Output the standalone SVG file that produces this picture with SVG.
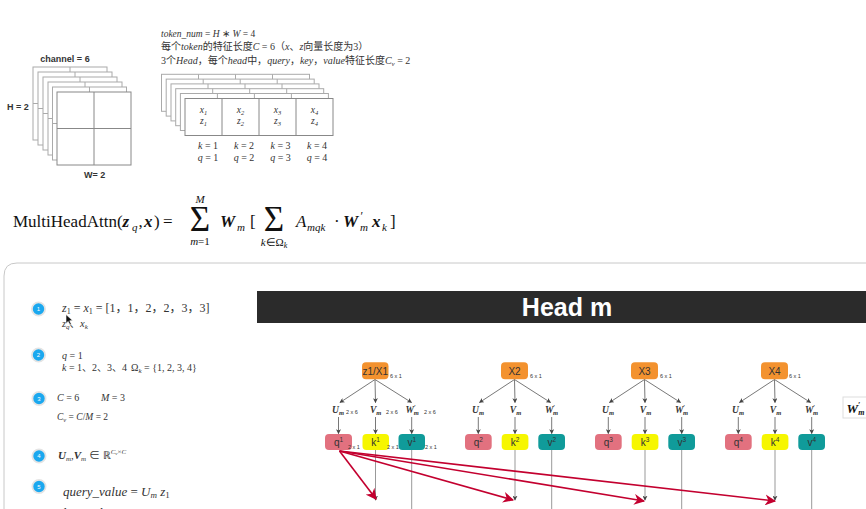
<svg xmlns="http://www.w3.org/2000/svg" width="866" height="509" viewBox="0 0 866 509">
<style>
.m{font-family:"Liberation Serif","Noto Sans CJK SC",serif;fill:#333}
.f{font-family:"Liberation Serif",serif;fill:#111}
.i{font-style:italic}
.b{font-style:italic;font-weight:bold}
.s{font-family:"Liberation Sans",Arial,sans-serif}
.fr{fill:#fff;stroke:#aaa;stroke-width:1}
.frf{fill:#fff;stroke:#888;stroke-width:1}
.gl{stroke:#aaa;stroke-width:1}
.gl2{stroke:#888;stroke-width:1}
.ar{stroke:#555;stroke-width:0.8;fill:none;marker-end:url(#ah)}
.kl{stroke:#999;stroke-width:1;fill:none}
.red{stroke:#c3002f;stroke-width:1.6;fill:none;marker-end:url(#rh)}
.xb{fill:#f3922f}
.qb{fill:#e2717f}
.kb{fill:#f6f600}
.vb{fill:#109b9a}
.bt{font-family:"Liberation Sans",Arial,sans-serif;font-size:10px;fill:#333}
.sm{font-family:"Liberation Sans",Arial,sans-serif;font-size:5.5px;fill:#333}
.lb{font-family:"Liberation Serif",serif;font-size:9.5px;font-style:italic;font-weight:bold;fill:#333}
.badge{fill:#1ba8ef;stroke:#e4e4e4;stroke-width:1.8}
.bn{font-family:"Liberation Sans",Arial,sans-serif;font-size:6px;fill:#fff;text-anchor:middle}
</style>
<defs>
<marker id="ah" viewBox="0 0 8 8" refX="7" refY="4" markerWidth="5" markerHeight="5" orient="auto" markerUnits="userSpaceOnUse">
<path d="M0,0 L8,4 L0,8 L2,4 z" fill="#444"/>
</marker>
<marker id="rh" viewBox="0 0 10 10" refX="9" refY="5" markerWidth="11" markerHeight="11" orient="auto" markerUnits="userSpaceOnUse">
<path d="M0,0 L10,5 L0,10 L3,5 z" fill="#c3002f"/>
</marker>
</defs>
<rect width="866" height="509" fill="#fff"/>

<!-- channel stack -->
<g id="channel-stack">
<text x="65" y="62" class="s" font-size="9" font-weight="bold" fill="#333" text-anchor="middle">channel = 6</text>
<g><rect class="fr" x="33" y="67" width="74" height="73"/><line class="gl" x1="70" y1="67" x2="70" y2="140"/><line class="gl" x1="33" y1="103.5" x2="107" y2="103.5"/></g>
<g><rect class="fr" x="38" y="72" width="74" height="73"/><line class="gl" x1="75" y1="72" x2="75" y2="145"/><line class="gl" x1="38" y1="108.5" x2="112" y2="108.5"/></g>
<g><rect class="fr" x="43" y="77" width="74" height="73"/><line class="gl" x1="80" y1="77" x2="80" y2="150"/><line class="gl" x1="43" y1="113.5" x2="117" y2="113.5"/></g>
<g><rect class="fr" x="48" y="82" width="74" height="73"/><line class="gl" x1="85" y1="82" x2="85" y2="155"/><line class="gl" x1="48" y1="118.5" x2="122" y2="118.5"/></g>
<g><rect class="fr" x="52.5" y="87" width="74" height="73"/><line class="gl" x1="89.5" y1="87" x2="89.5" y2="160"/><line class="gl" x1="52.5" y1="123.5" x2="126.5" y2="123.5"/></g>
<g><rect class="frf" x="57" y="92" width="74" height="73"/><line class="gl2" x1="94" y1="92" x2="94" y2="165"/><line class="gl2" x1="57" y1="128.5" x2="131" y2="128.5"/></g>
<text x="7" y="110" class="s" font-size="9" font-weight="bold" fill="#333">H = 2</text>
<text x="84" y="178" class="s" font-size="9" font-weight="bold" fill="#333">W= 2</text>
</g>

<!-- token description -->
<g id="token-text" class="m">
<text x="161" y="37" font-size="9.5"><tspan class="i">token_num</tspan> = <tspan class="i">H</tspan> ∗ <tspan class="i">W</tspan> = 4</text>
<text x="161" y="50" font-size="10">每个<tspan class="i">token</tspan>的特征长度<tspan class="i">C</tspan> = 6（<tspan class="i">x</tspan>、<tspan class="i">z</tspan>向量长度为3）</text>
<text x="161" y="64" font-size="10">3个<tspan class="i">Head</tspan>，每个<tspan class="i">head</tspan>中，<tspan class="i">query</tspan>，<tspan class="i">key</tspan>，<tspan class="i">value</tspan>特征长度<tspan class="i">C</tspan><tspan class="i" font-size="7" dy="2">v</tspan><tspan dy="-2"> = 2</tspan></text>
</g>

<!-- token stack -->
<g id="token-stack">
<g><rect class="fr" x="161.5" y="74.3" width="148" height="37"/><path class="gl" d="M198.5,74.3v37M235.5,74.3v37M272.5,74.3v37"/></g>
<g><rect class="fr" x="166.2" y="79.1" width="148" height="37"/><path class="gl" d="M203.2,79.1v37M240.2,79.1v37M277.2,79.1v37"/></g>
<g><rect class="fr" x="171" y="83.9" width="148" height="37"/><path class="gl" d="M208,83.9v37M245,83.9v37M282,83.9v37"/></g>
<g><rect class="fr" x="175.7" y="88.7" width="148" height="37"/><path class="gl" d="M212.7,88.7v37M249.7,88.7v37M286.7,88.7v37"/></g>
<g><rect class="fr" x="180.4" y="93.5" width="148" height="37"/><path class="gl" d="M217.4,93.5v37M254.4,93.5v37M291.4,93.5v37"/></g>
<g><rect class="frf" x="185" y="98.5" width="148" height="37"/><path class="gl2" d="M222,98.5v37M259,98.5v37M296,98.5v37"/></g>
<g class="m i" font-size="9.5" text-anchor="middle">
<text x="203.5" y="113">x<tspan font-size="6.5" dy="1.5">1</tspan></text>
<text x="203.5" y="124">z<tspan font-size="6.5" dy="1.5">1</tspan></text>
<text x="240.5" y="113">x<tspan font-size="6.5" dy="1.5">2</tspan></text>
<text x="240.5" y="124">z<tspan font-size="6.5" dy="1.5">2</tspan></text>
<text x="277.5" y="113">x<tspan font-size="6.5" dy="1.5">3</tspan></text>
<text x="277.5" y="124">z<tspan font-size="6.5" dy="1.5">3</tspan></text>
<text x="314.5" y="113">x<tspan font-size="6.5" dy="1.5">4</tspan></text>
<text x="314.5" y="124">z<tspan font-size="6.5" dy="1.5">4</tspan></text>
</g>
<g class="m" font-size="10" text-anchor="middle">
<text x="208" y="149"><tspan class="i">k</tspan> = 1</text>
<text x="244" y="149"><tspan class="i">k</tspan> = 2</text>
<text x="280.5" y="149"><tspan class="i">k</tspan> = 3</text>
<text x="317" y="149"><tspan class="i">k</tspan> = 4</text>
<text x="208" y="161"><tspan class="i">q</tspan> = 1</text>
<text x="244" y="161"><tspan class="i">q</tspan> = 2</text>
<text x="280.5" y="161"><tspan class="i">q</tspan> = 3</text>
<text x="317" y="161"><tspan class="i">q</tspan> = 4</text>
</g>
</g>

<!-- formula -->
<g id="formula" class="f">
<text x="13" y="227" font-size="17">MultiHeadAttn(</text>
<text x="122.5" y="227" font-size="17" class="b">z</text>
<text x="132" y="230.5" font-size="11" class="i">q</text>
<text x="138.5" y="227" font-size="17">,</text>
<text x="144" y="227" font-size="17" class="b">x</text>
<text x="154" y="227" font-size="17">)</text>
<text x="163" y="227" font-size="17">=</text>
<text x="200" y="231" font-size="35" text-anchor="middle">Σ</text>
<text x="200" y="203" font-size="11" class="i" text-anchor="middle">M</text>
<text x="200" y="245" font-size="11" text-anchor="middle"><tspan class="i">m</tspan>=1</text>
<text x="220" y="227" font-size="17" class="b">W</text>
<text x="237" y="230.5" font-size="11" class="i">m</text>
<text x="250" y="227" font-size="17">[</text>
<text x="274" y="231" font-size="35" text-anchor="middle">Σ</text>
<text x="274" y="245.5" font-size="11" text-anchor="middle"><tspan class="i">k</tspan>∈Ω<tspan class="i" font-size="8" dy="2">k</tspan></text>
<text x="296" y="227" font-size="17" class="i">A</text>
<text x="307" y="230.5" font-size="11" class="i">mqk</text>
<text x="334" y="227" font-size="17">·</text>
<text x="343" y="227" font-size="17" class="b">W</text>
<text x="360.5" y="220" font-size="12">′</text>
<text x="360" y="230.5" font-size="11" class="i">m</text>
<text x="372" y="227" font-size="17" class="b">x</text>
<text x="382" y="230.5" font-size="11" class="i">k</text>
<text x="390" y="227" font-size="17">]</text>
</g>

<!-- frame -->
<path d="M4,509 L4,276 Q4,263 17,263 L866,263" fill="none" stroke="#c8c8c8" stroke-width="1"/>

<!-- left list -->
<g id="step1">
<circle class="badge" cx="38.5" cy="309" r="6.6"/><text class="bn" x="38.5" y="311">1</text>
<text class="m" x="62" y="312" font-size="12"><tspan class="i">z</tspan><tspan font-size="8" dy="2">1</tspan><tspan dy="-2"> = </tspan><tspan class="i">x</tspan><tspan font-size="8" dy="2">1</tspan><tspan dy="-2"> = [1，1，2，2，3，3]</tspan></text>
<text class="m" x="62" y="327" font-size="10.5"><tspan class="i">z</tspan><tspan class="i" font-size="7" dy="2">q</tspan><tspan dy="-2">、</tspan><tspan class="i">x</tspan><tspan class="i" font-size="7" dy="2">k</tspan></text>
<path d="M66,314.5 L66,323.5 L68.2,321.4 L70,325 L71.4,324.3 L69.7,320.8 L72.6,320.6 Z" fill="#111" stroke="#fff" stroke-width="0.6"/>
</g>
<g id="step2">
<circle class="badge" cx="38.5" cy="355" r="6.6"/><text class="bn" x="38.5" y="357">2</text>
<text class="m" x="62" y="359" font-size="10"><tspan class="i">q</tspan> = 1</text>
<text class="m" x="62" y="371" font-size="10"><tspan class="i">k</tspan> = 1、2、3、4</text>
<text class="m" x="131" y="371" font-size="10">Ω<tspan class="i" font-size="7" dy="2">k</tspan><tspan dy="-2"> = {1, 2, 3, 4}</tspan></text>
</g>
<g id="step3">
<circle class="badge" cx="39" cy="398.5" r="6.6"/><text class="bn" x="39" y="400.5">3</text>
<text class="m" x="57" y="401" font-size="10"><tspan class="i">C</tspan> = 6</text>
<text class="m" x="101" y="401" font-size="10"><tspan class="i">M</tspan> = 3</text>
<text class="m" x="57" y="420" font-size="9.5"><tspan class="i">C</tspan><tspan class="i" font-size="6.5" dy="2">v</tspan><tspan dy="-2"> = </tspan><tspan class="i">C</tspan>/<tspan class="i">M</tspan> = 2</text>
</g>
<g id="step4">
<circle class="badge" cx="39" cy="456" r="6.6"/><text class="bn" x="39" y="458">4</text>
<text class="m" x="58" y="459" font-size="11"><tspan class="b">U</tspan><tspan class="i" font-size="7" dy="2">m</tspan><tspan dy="-2">,</tspan><tspan class="b">V</tspan><tspan class="i" font-size="7" dy="2">m</tspan><tspan dy="-2"> ∈ ℝ</tspan><tspan class="i" font-size="7" dy="-5">C</tspan><tspan class="i" font-size="5" dy="1">v</tspan><tspan font-size="7" dy="-1">×</tspan><tspan class="i" font-size="7">C</tspan></text>
</g>
<g id="step5">
<circle class="badge" cx="39" cy="486.5" r="6.6"/><text class="bn" x="39" y="488.5">5</text>
<text class="m i" x="63" y="496" font-size="13">query_value <tspan font-style="normal">=</tspan> U<tspan font-size="9" dy="2">m</tspan><tspan dy="-2"> z</tspan><tspan font-size="9" font-style="normal" dy="2">1</tspan></text>
<text class="m i" x="63" y="517" font-size="13">key_value <tspan font-style="normal">=</tspan> V<tspan font-size="9" dy="2">m</tspan><tspan dy="-2"> x</tspan><tspan font-size="9" dy="2">k</tspan></text>
</g>

<!-- head bar -->
<g id="head-bar">
<rect x="257" y="291" width="609" height="32" fill="#2b2b2b"/>
<text x="567" y="316" class="s" font-size="25" font-weight="bold" fill="#fff" text-anchor="middle">Head m</text>
</g>

<!-- connectors -->
<g id="connectors">
<path class="ar" d="M375,379.5 L340,402.5"/><path class="ar" d="M375,379.5 L375.5,402.5"/><path class="ar" d="M375,379.5 L411.5,402.5"/>
<path class="ar" d="M338.5,417 L338.5,433.5"/><path class="ar" d="M375.5,417 L375.5,433.5"/><path class="ar" d="M411.7,417 L411.7,433.5"/>
<path class="ar" d="M514.5,379.5 L479.5,402.5"/><path class="ar" d="M514.5,379.5 L515,402.5"/><path class="ar" d="M514.5,379.5 L550.5,402.5"/>
<path class="ar" d="M478.3,417 L478.3,433.5"/><path class="ar" d="M515,417 L515,433.5"/><path class="ar" d="M551.7,417 L551.7,433.5"/>
<path class="ar" d="M644.5,379.5 L609.5,402.5"/><path class="ar" d="M644.5,379.5 L645,402.5"/><path class="ar" d="M644.5,379.5 L680.5,402.5"/>
<path class="ar" d="M608.3,417 L608.3,433.5"/><path class="ar" d="M645,417 L645,433.5"/><path class="ar" d="M681.7,417 L681.7,433.5"/>
<path class="ar" d="M774.5,379.5 L739.5,402.5"/><path class="ar" d="M774.5,379.5 L775,402.5"/><path class="ar" d="M774.5,379.5 L810.5,402.5"/>
<path class="ar" d="M738.3,417 L738.3,433.5"/><path class="ar" d="M775,417 L775,433.5"/><path class="ar" d="M811.7,417 L811.7,433.5"/>
<path class="kl" d="M375.5,450 L375.5,500" marker-end="url(#ah)"/>
<path class="kl" d="M515,450 L515,500" marker-end="url(#ah)"/>
<path class="kl" d="M645,450 L645,500" marker-end="url(#ah)"/>
<path class="kl" d="M775,450 L775,500" marker-end="url(#ah)"/>
<path class="kl" stroke="#777" d="M411.7,450 L411.7,509"/>
<path class="kl" stroke="#777" d="M551.7,450 L551.7,509"/>
<path class="kl" stroke="#777" d="M681.7,450 L681.7,509"/>
<path class="kl" stroke="#777" d="M811.7,450 L811.7,509"/>
<path class="red" d="M339.5,451 L376,499"/>
<path class="red" d="M339.5,451 L513,500"/>
<path class="red" d="M339.5,451 L644,501"/>
<path class="red" d="M339.5,451 L775,501"/>
</g>

<!-- group 1 -->
<g id="z1x1"><rect class="xb" x="362" y="362.3" width="26.5" height="17" rx="4"/><text class="bt" x="375.2" y="374.5" text-anchor="middle">z1/X1</text><text class="sm" x="390" y="377.5">6 x 1</text></g>
<g id="lbl1" class="lb"><text x="332" y="413">U<tspan font-size="6.5" dy="1.5">m</tspan></text><text class="sm" x="346" y="414" font-style="normal" font-weight="normal">2 x 6</text>
<text x="370" y="413">V<tspan font-size="6.5" dy="1.5">m</tspan></text><text class="sm" x="386" y="414" font-style="normal" font-weight="normal">2 x 6</text>
<text x="405.5" y="413">W<tspan font-size="6" dy="-4">′</tspan><tspan font-size="6.5" dx="-2" dy="5.5">m</tspan></text><text class="sm" x="424" y="414" font-style="normal" font-weight="normal">2 x 6</text></g>
<g id="q1"><rect class="qb" x="325" y="434" width="27" height="16" rx="4"/><text class="bt" x="338.5" y="446" text-anchor="middle">q<tspan font-size="6.5" dy="-4">1</tspan></text><text class="sm" x="348" y="448.5">2 x 1</text></g>
<g id="k1"><rect class="kb" x="362.5" y="434" width="26.5" height="16" rx="4"/><text class="bt" x="375.5" y="446" text-anchor="middle">k<tspan font-size="6.5" dy="-4">1</tspan></text><text class="sm" x="387" y="448.5">2 x 1</text></g>
<g id="v1"><rect class="vb" x="398.5" y="434" width="26.5" height="16" rx="4"/><text class="bt" x="411.7" y="446" text-anchor="middle" fill="#fff">v<tspan font-size="6.5" dy="-4">1</tspan></text><text class="sm" x="425" y="448.5">2 x 1</text></g>

<!-- group 2 -->
<g id="x2"><rect class="xb" x="501" y="362.3" width="27" height="17" rx="4"/><text class="bt" x="514.5" y="374.5" text-anchor="middle">X2</text><text class="sm" x="530" y="377.5">6 x 1</text></g>
<g id="lbl2" class="lb" text-anchor="middle"><text x="478" y="413">U<tspan font-size="6.5" dy="1.5">m</tspan></text><text x="515.5" y="413">V<tspan font-size="6.5" dy="1.5">m</tspan></text><text x="551.5" y="413">W<tspan font-size="6" dy="-4">′</tspan><tspan font-size="6.5" dx="-2" dy="5.5">m</tspan></text></g>
<g id="q2"><rect class="qb" x="465" y="434" width="26.7" height="16" rx="4"/><text class="bt" x="478.3" y="446" text-anchor="middle">q<tspan font-size="6.5" dy="-4">2</tspan></text></g>
<g id="k2"><rect class="kb" x="501.7" y="434" width="26.7" height="16" rx="4"/><text class="bt" x="515" y="446" text-anchor="middle">k<tspan font-size="6.5" dy="-4">2</tspan></text></g>
<g id="v2"><rect class="vb" x="538.3" y="434" width="26.7" height="16" rx="4"/><text class="bt" x="551.7" y="446" text-anchor="middle" fill="#fff">v<tspan font-size="6.5" dy="-4">2</tspan></text></g>

<!-- group 3 -->
<g id="x3"><rect class="xb" x="631" y="362.3" width="27" height="17" rx="4"/><text class="bt" x="644.5" y="374.5" text-anchor="middle">X3</text><text class="sm" x="660" y="377.5">6 x 1</text></g>
<g id="lbl3" class="lb" text-anchor="middle"><text x="608" y="413">U<tspan font-size="6.5" dy="1.5">m</tspan></text><text x="645.5" y="413">V<tspan font-size="6.5" dy="1.5">m</tspan></text><text x="681.5" y="413">W<tspan font-size="6" dy="-4">′</tspan><tspan font-size="6.5" dx="-2" dy="5.5">m</tspan></text></g>
<g id="q3"><rect class="qb" x="595" y="434" width="26.7" height="16" rx="4"/><text class="bt" x="608.3" y="446" text-anchor="middle">q<tspan font-size="6.5" dy="-4">3</tspan></text></g>
<g id="k3"><rect class="kb" x="631.7" y="434" width="26.7" height="16" rx="4"/><text class="bt" x="645" y="446" text-anchor="middle">k<tspan font-size="6.5" dy="-4">3</tspan></text></g>
<g id="v3"><rect class="vb" x="668.3" y="434" width="26.7" height="16" rx="4"/><text class="bt" x="681.7" y="446" text-anchor="middle" fill="#fff">v<tspan font-size="6.5" dy="-4">3</tspan></text></g>

<!-- group 4 -->
<g id="x4"><rect class="xb" x="761" y="362.3" width="27" height="17" rx="4"/><text class="bt" x="774.5" y="374.5" text-anchor="middle">X4</text><text class="sm" x="789" y="377.5">6 x 1</text></g>
<g id="lbl4" class="lb" text-anchor="middle"><text x="738" y="413">U<tspan font-size="6.5" dy="1.5">m</tspan></text><text x="775.5" y="413">V<tspan font-size="6.5" dy="1.5">m</tspan></text><text x="811.5" y="413">W<tspan font-size="6" dy="-4">′</tspan><tspan font-size="6.5" dx="-2" dy="5.5">m</tspan></text></g>
<g id="q4"><rect class="qb" x="725" y="434" width="26.7" height="16" rx="4"/><text class="bt" x="738.3" y="446" text-anchor="middle">q<tspan font-size="6.5" dy="-4">4</tspan></text></g>
<g id="k4"><rect class="kb" x="761.7" y="434" width="26.7" height="16" rx="4"/><text class="bt" x="775" y="446" text-anchor="middle">k<tspan font-size="6.5" dy="-4">4</tspan></text></g>
<g id="v4"><rect class="vb" x="798.3" y="434" width="26.7" height="16" rx="4"/><text class="bt" x="811.7" y="446" text-anchor="middle" fill="#fff">v<tspan font-size="6.5" dy="-4">4</tspan></text></g>

<!-- bottom labels (cut off) -->
<g id="alpha-labels" class="m i" font-size="10">
<text x="369" y="515.5">α<tspan font-size="7" font-style="normal" dy="1">1,1</tspan></text>
<text x="508" y="515.5">α<tspan font-size="7" font-style="normal" dy="1">1,2</tspan></text>
<text x="638" y="515.5">α<tspan font-size="7" font-style="normal" dy="1">1,3</tspan></text>
<text x="768" y="515.5">α<tspan font-size="7" font-style="normal" dy="1">1,4</tspan></text>
</g>

<!-- partial W'm box -->
<g id="wm-box">
<rect x="843" y="397" width="30" height="21" fill="#fff" stroke="#ddd" stroke-width="1"/>
<text class="f b" x="846.5" y="412.5" font-size="13">W<tspan font-size="8" dy="-5">′</tspan><tspan font-size="8" dx="-2" dy="7">m</tspan></text>
</g>
</svg>
